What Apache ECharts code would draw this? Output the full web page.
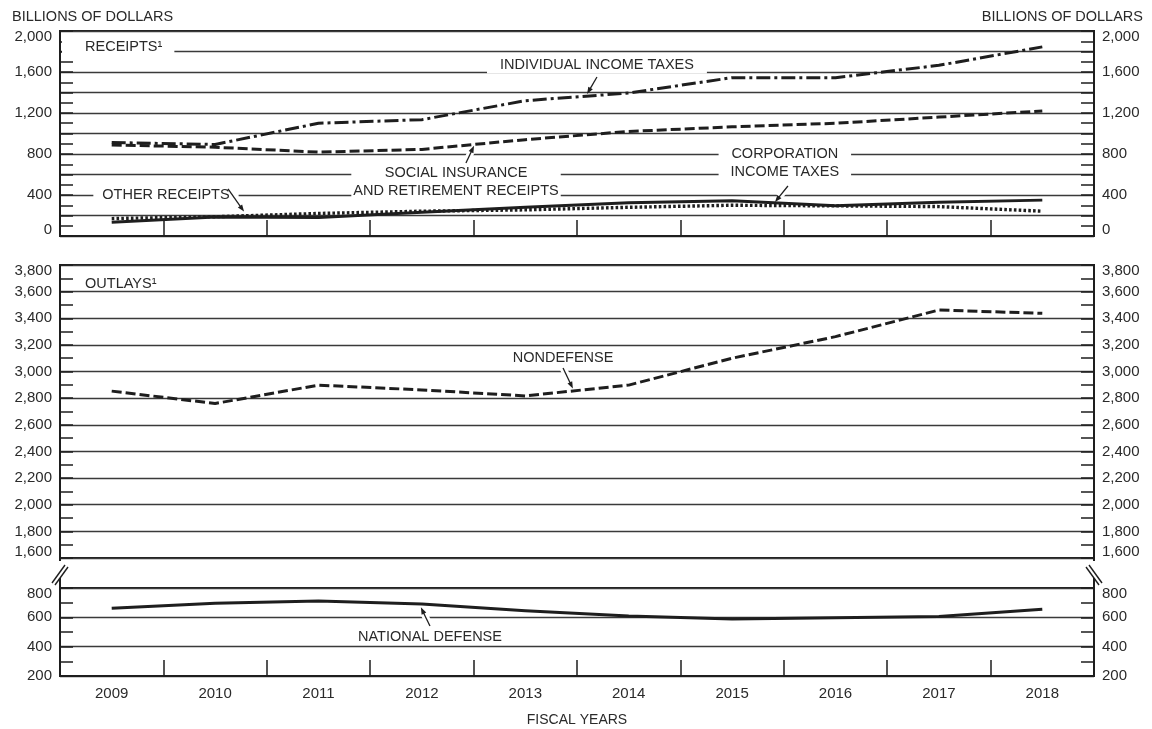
<!DOCTYPE html>
<html><head><meta charset="utf-8">
<script src="https://cdn.jsdelivr.net/npm/echarts@6/dist/echarts.min.js"></script>
<style>html,body{margin:0;padding:0;background:#fff}#c{width:1152px;height:729px}</style>
</head><body><div id="c"></div>
<script>
// ---------- DATA ----------
const years = ['2009','2010','2011','2012','2013','2014','2015','2016','2017','2018'];
const individualIncomeTaxes = [912, 893, 1100, 1135, 1320, 1395, 1545, 1545, 1665, 1845];
const socialInsuranceReceipts = [888, 866, 818, 845, 940, 1020, 1065, 1100, 1160, 1220];
const corporationIncomeTaxes = [135, 185, 180, 232, 280, 325, 343, 295, 330, 350];
const otherReceipts = [170, 188, 220, 242, 255, 280, 300, 294, 287, 242];
const nondefenseOutlays = [2853, 2760, 2898, 2862, 2817, 2898, 3100, 3262, 3462, 3437];
const nationalDefenseOutlays = [662, 696, 711, 691, 645, 609, 589, 598, 605, 655];
const receiptsTickLabels = [0, 400, 800, 1200, 1600, 2000];
const outlaysUpperTickLabels = [1600, 1800, 2000, 2200, 2400, 2600, 2800, 3000, 3200, 3400, 3600, 3800];
const outlaysLowerTickLabels = [200, 400, 600, 800];

// ---------- STYLE ----------
const FONT = "'Liberation Sans', Arial, sans-serif";
const TXT = '#2a2a2a';
const INK = '#1e1e1e';
const FS = 15;      // tick labels
const FA = 14.5;    // annotations

function fmt(v){ return String(v).replace(/\B(?=(\d{3})+(?!\d))/g, ','); }

function yAxis(gridIndex, position, min, max, labels, shiftMax, shiftMin, grid){
  return {
    type: 'value', gridIndex, position, min, max, interval: 200,
    axisLine: {show: true, onZero: false, lineStyle: {color: INK, width: 2}},
    axisTick: {show: true, inside: true, length: 13, lineStyle: {color: INK, width: 1.5}},
    minorTick: {show: true, splitNumber: 2, length: 13, lineStyle: {color: INK, width: 1.5}},
    splitLine: {show: grid, lineStyle: {color: '#3a3a3a', width: 1.3}},
    minorSplitLine: {show: false},
    axisLabel: {
      show: true, margin: 8, color: TXT, fontSize: FS, fontFamily: FONT,
      showMinLabel: true, showMaxLabel: true,
      formatter: function(v){
        if (labels.indexOf(v) < 0) return '';
        const s = fmt(v);
        if (v === max && shiftMax) return '{dn|' + s + '}';
        if (v === min && shiftMin) return '{up|' + s + '}';
        return s;
      },
      rich: {
        dn: {padding: [12, 0, 0, 0], fontSize: FS, color: TXT, fontFamily: FONT},
        up: {padding: [0, 0, 12, 0], fontSize: FS, color: TXT, fontFamily: FONT}
      }
    }
  };
}

function xAxis(gridIndex, showTicks, showLabels){
  const ax = {
    type: 'category', gridIndex, data: years, boundaryGap: true,
    axisLine: {show: showTicks, lineStyle: {color: INK, width: 2}},
    axisTick: {show: showTicks, inside: true, length: 16, lineStyle: {color: INK, width: 1.5}},
    axisLabel: {show: showLabels, color: TXT, fontSize: FS, fontFamily: FONT, margin: 10},
    splitLine: {show: false}
  };
  if (showLabels) {
    ax.name = 'FISCAL YEARS';
    ax.nameLocation = 'middle';
    ax.nameGap = 37;
    ax.nameTextStyle = {color: TXT, fontSize: 14, fontFamily: FONT};
  }
  return ax;
}

function lineSeries(name, data, xi, yi, type, width){
  return {
    name, type: 'line', data, xAxisIndex: xi, yAxisIndex: yi,
    symbol: 'none', silent: true, z: 3,
    lineStyle: {color: INK, width: width || 3, type: type, cap: 'butt', join: 'round'}
  };
}

const gridBase = {left: 60, right: 58, show: true, borderColor: INK, borderWidth: 2, backgroundColor: 'transparent'};

const option = {
  animation: false,
  backgroundColor: '#fff',
  grid: [
    Object.assign({top: 31, height: 205}, gridBase),
    Object.assign({top: 265, height: 293}, gridBase),
    Object.assign({top: 588, height: 88}, gridBase)
  ],
  xAxis: [xAxis(0, true, false), xAxis(1, false, false), xAxis(2, true, true)],
  yAxis: [
    yAxis(0, 'left', 0, 2000, receiptsTickLabels, true, true, true),
    yAxis(0, 'right', 0, 2000, receiptsTickLabels, true, true, false),
    yAxis(1, 'left', 1600, 3800, outlaysUpperTickLabels, true, true, true),
    yAxis(1, 'right', 1600, 3800, outlaysUpperTickLabels, true, true, false),
    yAxis(2, 'left', 200, 800, outlaysLowerTickLabels, true, false, true),
    yAxis(2, 'right', 200, 800, outlaysLowerTickLabels, true, false, false)
  ],
  series: [
    lineSeries('Individual income taxes', individualIncomeTaxes, 0, 0, [14, 4, 3, 4]),
    lineSeries('Social insurance and retirement receipts', socialInsuranceReceipts, 0, 0, [10, 4]),
    lineSeries('Corporation income taxes', corporationIncomeTaxes, 0, 0, 'solid'),
    lineSeries('Other receipts', otherReceipts, 0, 0, [2.6, 2.2], 3.4),
    lineSeries('Nondefense', nondefenseOutlays, 1, 2, [10, 4]),
    lineSeries('National defense', nationalDefenseOutlays, 2, 4, 'solid')
  ]
};

const chart = echarts.init(document.getElementById('c'), null, {renderer: 'canvas'});
chart.setOption(option);

// ---------- ANNOTATIONS (anchored in data coordinates) ----------
const annotations = [
  {grid: 0, text: 'RECEIPTS\u00B9', at: [-0.258, 1844], align: 'left', lh: 12, pad: [0, 12, 3, 23], bg: true},
  {grid: 0, text: 'INDIVIDUAL INCOME TAXES', at: [4.693, 1668], align: 'center', lh: 14, pad: [0, 13, 3, 13], bg: true,
   arrow: [[4.693, 1551], [4.597, 1385]]},
  {grid: 0, text: 'SOCIAL INSURANCE\nAND RETIREMENT RECEIPTS', at: [3.33, 527], align: 'center', lh: 18, pad: [0, 2, 0, 2], bg: true,
   arrow: [[3.426, 712], [3.504, 880]]},
  {grid: 0, text: 'CORPORATION\nINCOME TAXES', at: [6.51, 712], align: 'center', lh: 18, pad: [0, 12, 0, 12], bg: true,
   arrow: [[6.54, 488], [6.415, 332]]},
  {grid: 0, text: 'OTHER RECEIPTS', at: [0.525, 400], align: 'center', lh: 14, pad: [0, 9, 0, 9], bg: true,
   arrow: [[1.125, 459], [1.28, 238]]},
  {grid: 1, text: 'OUTLAYS\u00B9', at: [-0.258, 3657], align: 'left', lh: 14, pad: [0, 0, 0, 0], bg: false},
  {grid: 1, text: 'NONDEFENSE', at: [4.365, 3102], align: 'center', lh: 14, pad: [0, 0, 0, 0], bg: false,
   arrow: [[4.365, 3027], [4.46, 2872]]},
  {grid: 2, text: 'NATIONAL DEFENSE', at: [3.078, 466], align: 'center', lh: 14, pad: [0, 0, 0, 0], bg: false,
   arrow: [[3.078, 541], [2.99, 668]]}
];

function toPx(g, idx, v){
  const p0 = chart.convertToPixel({gridIndex: g}, [0, v]);
  const p1 = chart.convertToPixel({gridIndex: g}, [1, v]);
  return [p0[0] + idx * (p1[0] - p0[0]), p0[1]];
}

const graphics = [];
function seg(a, b, w, color, z){
  graphics.push({type: 'line', z: z, silent: true,
    shape: {x1: a[0], y1: a[1], x2: b[0], y2: b[1]},
    style: {stroke: color, lineWidth: w, lineCap: 'butt'}});
}

annotations.forEach(function(a){
  const p = toPx(a.grid, a.at[0], a.at[1]);
  if (a.arrow) {
    const s = toPx(a.grid, a.arrow[0][0], a.arrow[0][1]);
    const t = toPx(a.grid, a.arrow[1][0], a.arrow[1][1]);
    const dx = t[0] - s[0], dy = t[1] - s[1];
    const L = Math.sqrt(dx*dx + dy*dy), ux = dx / L, uy = dy / L;
    const m = [s[0] + dx * 0.68, s[1] + dy * 0.68];
    seg(s, m, 7, '#fff', 90);
    seg(s, [t[0] - ux * 4, t[1] - uy * 4], 1.3, INK, 101);
    const hl = 7, hw = 2.6;
    graphics.push({type: 'polygon', z: 101, silent: true,
      shape: {points: [t, [t[0] - ux*hl - uy*hw, t[1] - uy*hl + ux*hw], [t[0] - ux*hl + uy*hw, t[1] - uy*hl - ux*hw]]},
      style: {fill: INK}});
  }
  const x = a.align === 'left' ? p[0] - a.pad[3] : p[0];
  const st = {text: a.text, fontSize: FA, fontFamily: FONT, fill: TXT,
    align: a.align, verticalAlign: 'middle', lineHeight: a.lh};
  if (a.bg) { st.backgroundColor = '#fff'; st.padding = a.pad; }
  graphics.push({type: 'text', x: x, y: p[1], z: 100, silent: true, style: st});
});

// axis titles
graphics.push({type: 'text', x: 12, y: 17, z: 100, silent: true,
  style: {text: 'BILLIONS OF DOLLARS', fontSize: 14.5, fontFamily: FONT, fill: TXT, align: 'left', verticalAlign: 'middle'}});
graphics.push({type: 'text', x: 1143, y: 17, z: 100, silent: true,
  style: {text: 'BILLIONS OF DOLLARS', fontSize: 14.5, fontFamily: FONT, fill: TXT, align: 'right', verticalAlign: 'middle'}});

// axis break marks between the two outlays panels
(function(){
  const a0 = toPx(1, -0.5, 1600), a1 = toPx(1, 9.5, 1600);
  const b0 = toPx(2, -0.5, 800);
  const lx = a0[0], rx = a1[0], yT = a0[1], yB = b0[1];
  [lx, rx].forEach(function(x, i){
    seg([x, yT], [x, yT + 3], 2, INK, 102);
    seg([x, yB - 10], [x, yB], 2, INK, 102);
    const d = i === 0 ? 1 : -1;
    seg([x - 8*d, yT + 25], [x + 5*d, yT + 7], 1.4, INK, 102);
    seg([x - 5*d, yT + 27], [x + 8*d, yT + 9], 1.4, INK, 102);
  });
})();

chart.setOption({graphic: graphics});
</script>
</body></html>
